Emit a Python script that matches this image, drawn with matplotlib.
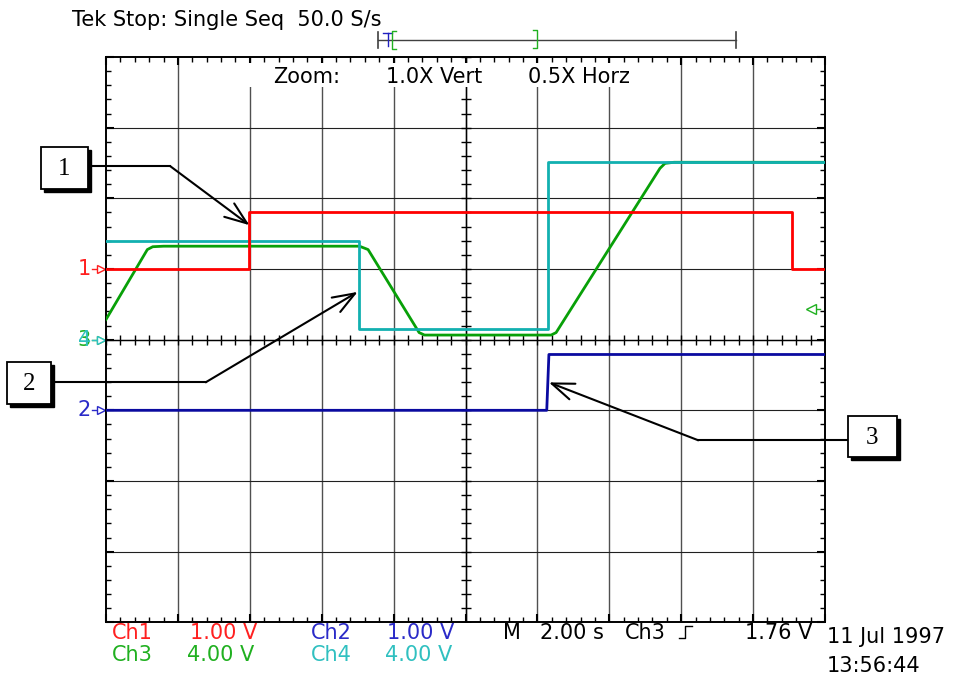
import numpy as np
import matplotlib.pyplot as plt
from matplotlib.patches import Rectangle


# =========================
# DATA
# =========================
# time in seconds, volts per channel
T_END = 20.0  # 10 div x 2.00 s/div

ch1_t = [0.0, 3.99, 19.09, 20.0]
ch1_v = [0.0, 0.80, 0.0, 0.0]

ch2_t = [0.0, 12.26, 12.32, 20.0]
ch2_v = [0.0, 0.0, 0.79, 0.79]

ch3_t = [0.0, 1.15, 1.30, 1.60, 7.05, 7.29, 8.71, 8.86,
         12.38, 12.52, 15.41, 15.55, 15.80, 20.0]
ch3_v = [1.14, 5.10, 5.26, 5.29, 5.29, 5.10, 0.40, 0.26,
         0.26, 0.40, 9.70, 9.98, 10.04, 10.04]

ch4_t = [0.0, 7.05, 12.30, 20.0]
ch4_v = [5.59, 0.58, 10.04, 10.04]

trig_level = 1.76  # V on Ch3

# volts/div and ground offset (div) per channel
scale = {1: 1.0, 2: 1.0, 3: 4.0, 4: 4.0}
offset = {1: 1.0, 2: -1.0, 3: 0.0, 4: 0.0}

# =========================
# STYLE
# =========================
W, H = 969, 675
L, R, TOP, BOT = 106, 825, 57, 622.3

TRACE = {1: "#ff0000", 2: "#0a0aa0", 3: "#08a008", 4: "#12b0b0"}
LABEL = {1: "#ff2020", 2: "#2a2ac8", 3: "#20b020", 4: "#30c0c0"}
FONT = "DejaVu Sans"
FS = 15


def to_div(ch, v):
    return np.asarray(v) / scale[ch] + offset[ch]


fig = plt.figure(figsize=(W / 100, H / 100), dpi=100)
ax = fig.add_axes([L / W, 1 - BOT / H, (R - L) / W, (BOT - TOP) / H])
ax.set_xlim(0, T_END)
ax.set_ylim(-4, 4)
ax.set_zorder(1)

# graticule
for t in np.arange(2, T_END, 2):
    ax.axvline(t, color="#505050", lw=1.0, zorder=1)
for d in np.arange(-3, 4, 1):
    ax.axhline(d, color="#202020", lw=0.8, zorder=1)
ax.axvline(T_END / 2, color="k", lw=1.0, zorder=1)
ax.axhline(0, color="k", lw=1.0, zorder=1)

for s in ax.spines.values():
    s.set_linewidth(1.4)

ax.set_xticks(np.arange(0, T_END + 0.01, 2))
ax.set_yticks(np.arange(-4, 4.01, 1))
ax.set_xticks(np.arange(0, T_END + 0.01, 0.4), minor=True)
ax.set_yticks(np.arange(-4, 4.01, 0.2), minor=True)
ax.tick_params(which="both", direction="in", top=True, right=True,
               labelbottom=False, labelleft=False, color="k")
ax.tick_params(which="major", length=6, width=1.5)
ax.tick_params(which="minor", length=3.5, width=1.0)

# ticks on the centre lines
xs = np.arange(0, T_END + 0.01, 0.4)
ax.plot(xs, np.zeros_like(xs), ls="none", marker="|", ms=7, mew=1.0,
        color="k", zorder=2)
ys = np.arange(-4, 4.01, 0.2)
ax.plot(np.full_like(ys, T_END / 2), ys, ls="none", marker="_", ms=7,
        mew=1.0, color="k", zorder=2)

# traces
ax.plot(ch3_t, to_div(3, ch3_v), color=TRACE[3], lw=2.0, zorder=3)
ax.plot(ch4_t, to_div(4, ch4_v), color=TRACE[4], lw=2.0,
        drawstyle="steps-post", zorder=4)
ax.plot(ch1_t, to_div(1, ch1_v), color=TRACE[1], lw=2.0,
        drawstyle="steps-post", zorder=5)
ax.plot(ch2_t, to_div(2, ch2_v), color=TRACE[2], lw=2.0, zorder=5)

# ground markers on the left
ytr = ax.get_yaxis_transform()
for ch, txt in [(1, "1"), (2, "2"), (3, "3"), (4, "4")]:
    y = offset[ch]
    ax.text(-0.021, y, txt, transform=ytr, color=LABEL[ch], fontsize=FS,
            family=FONT, ha="right", va="center", clip_on=False)
    ax.plot([-0.019, -0.010], [y, y], transform=ytr, color=LABEL[ch],
            lw=1.0, clip_on=False)
    ax.plot([-0.007], [y], transform=ytr, marker=">", ms=6, mfc="white",
            mec=LABEL[ch], mew=1.0, clip_on=False)

# trigger level marker on the right
ty = to_div(3, trig_level)
ax.plot([0.985, 0.993], [ty, ty], transform=ytr, color=LABEL[3], lw=1.0,
        clip_on=False, zorder=6)
ax.plot([0.981], [ty], transform=ytr, marker="<", ms=7, mfc="white",
        mec=LABEL[3], mew=1.0, clip_on=False, zorder=6)

# =========================
# OVERLAY (pixel coordinates)
# =========================
ov = fig.add_axes([0, 0, 1, 1])
ov.set_xlim(0, W)
ov.set_ylim(H, 0)
ov.axis("off")
ov.patch.set_visible(False)
ov.set_zorder(2)

# blank area behind the zoom readout
ov.add_patch(Rectangle((242, 63), 410, 24, facecolor="white",
                       edgecolor="none", zorder=1))
ov.text(273, 83.3, "Zoom:", fontsize=FS, family=FONT, zorder=2)
ov.text(386, 83.3, "1.0X Vert", fontsize=FS, family=FONT, zorder=2)
ov.text(528, 83.3, "0.5X Horz", fontsize=FS, family=FONT, zorder=2)

ov.text(72, 26, "Tek Stop: Single Seq  50.0 S/s", fontsize=FS, family=FONT)

# record bar
ov.plot([378, 736], [40, 40], color="#404040", lw=1.0)
ov.plot([378, 378], [32, 48], color="#404040", lw=1.2)
ov.plot([736, 736], [32, 48], color="#404040", lw=1.2)
ov.plot([383, 392], [32.5, 32.5], color="#2020c0", lw=1.0)
ov.plot([387.7, 387.7], [32.5, 46], color="#2020c0", lw=1.0)
ov.plot([396.5, 391.7, 391.7, 396.5], [31, 31, 49, 49], color="#20b020",
        lw=1.0)
ov.plot([533.3, 537.3, 537.3, 533.3], [30, 30, 48, 48], color="#20b020",
        lw=1.0)

# bottom readouts
ov.text(112, 639, "Ch1", color=LABEL[1], fontsize=FS, family=FONT)
ov.text(190, 639, "1.00 V", color=LABEL[1], fontsize=FS, family=FONT)
ov.text(311, 639, "Ch2", color=LABEL[2], fontsize=FS, family=FONT)
ov.text(387, 639, "1.00 V", color=LABEL[2], fontsize=FS, family=FONT)
ov.text(112, 660.7, "Ch3", color=LABEL[3], fontsize=FS, family=FONT)
ov.text(187, 660.7, "4.00 V", color=LABEL[3], fontsize=FS, family=FONT)
ov.text(311, 660.7, "Ch4", color=LABEL[4], fontsize=FS, family=FONT)
ov.text(385, 660.7, "4.00 V", color=LABEL[4], fontsize=FS, family=FONT)

ov.text(503, 639, "M", fontsize=FS, family=FONT)
ov.text(540, 639, "2.00 s", fontsize=FS, family=FONT)
ov.text(625, 639, "Ch3", fontsize=FS, family=FONT)
ov.plot([679, 685, 685, 692], [638, 638, 626, 626], color="k", lw=1.0)
ov.text(745, 639, "1.76 V", fontsize=FS, family=FONT)

ov.text(827, 643, "11 Jul 1997", fontsize=FS, family=FONT)
ov.text(827, 671.7, "13:56:44", fontsize=FS, family=FONT)


# numbered callouts
def callout(x0, y0, x1, y1, label, line_y, line_x0, elbow_x, tip):
    ov.add_patch(Rectangle((x0 + 3, y0 + 3), x1 - x0, y1 - y0,
                           facecolor="black", edgecolor="black", zorder=3))
    ov.add_patch(Rectangle((x0, y0), x1 - x0, y1 - y0, facecolor="white",
                           edgecolor="black", lw=1.3, zorder=4))
    ov.text((x0 + x1) / 2, (y0 + y1) / 2 + 1, label, fontsize=18,
            family="Liberation Serif", ha="center", va="center", zorder=5)
    ov.plot([line_x0, elbow_x], [line_y, line_y], color="k", lw=1.5,
            zorder=2)
    ov.annotate("", xy=tip, xycoords=ax.transData,
                xytext=(elbow_x, line_y), textcoords=ov.transData,
                arrowprops=dict(arrowstyle="->,head_length=1.6,head_width=0.6",
                                color="k", lw=1.5, shrinkA=0, shrinkB=0),
                zorder=2)


callout(41, 147, 88, 189, "1", 166, 88, 170, (ch1_t[1], 1.62))
callout(7, 362, 51, 404, "2", 382.3, 51, 205.7, (7.0, 0.676))
callout(848, 416, 897, 457, "3", 440.3, 848, 698.3, (12.32, -0.605))

fig.savefig("out.png", dpi=100)
